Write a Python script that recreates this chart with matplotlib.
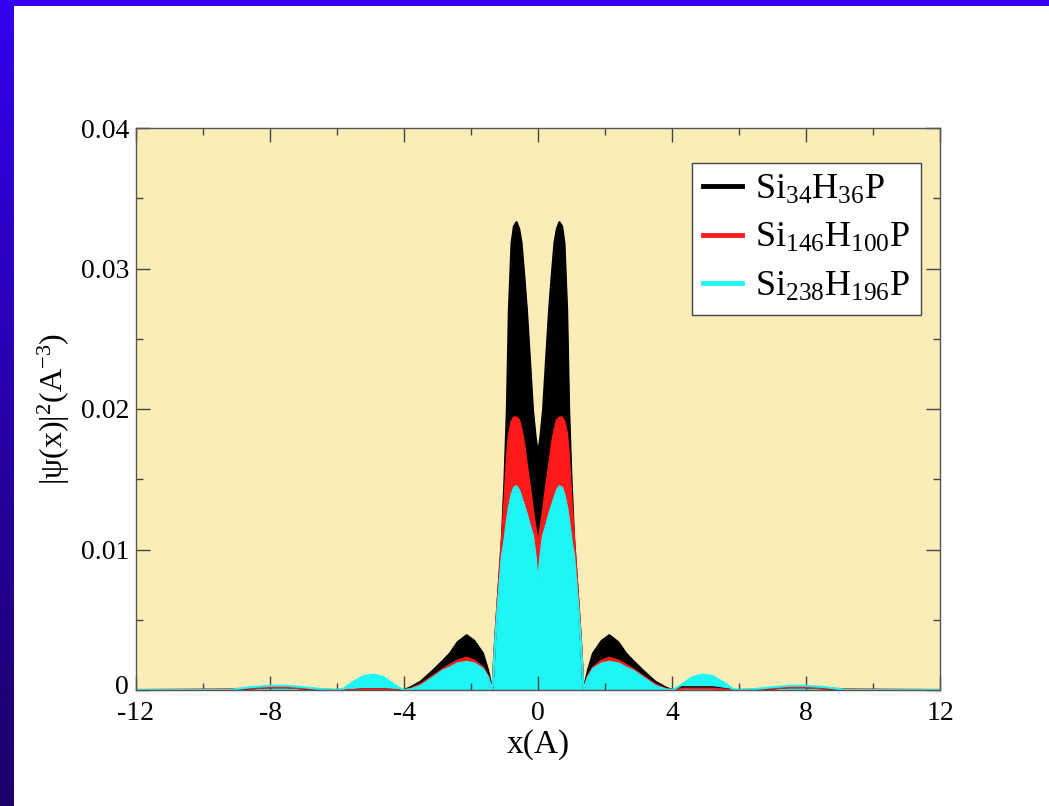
import numpy as np
import matplotlib
matplotlib.use("Agg")
import matplotlib.pyplot as plt
from matplotlib.lines import Line2D
from matplotlib.patches import Rectangle
from matplotlib.transforms import ScaledTranslation

plt.rcParams['font.family'] = ['Liberation Serif', 'DejaVu Serif']
plt.rcParams['mathtext.fontset'] = 'custom'
plt.rcParams['mathtext.rm'] = 'Liberation Serif'
plt.rcParams['mathtext.it'] = 'Liberation Serif:italic'
plt.rcParams['axes.unicode_minus'] = False

x = [-12, -9.2, -8.6, -8.0, -7.5, -7.0, -6.4, -6.0, -5.8, -5.5, -5.2, -4.9, -4.6, -4.3,
     -4.1, -4.0, -3.8, -3.5, -3.13, -2.83, -2.63, -2.4, -2.13, -1.9, -1.64, -1.49, -1.36,
     -1.28, -1.2, -1.08, -1.0, -0.93, -0.87, -0.79, -0.72, -0.64, -0.56, -0.49, -0.41,
     -0.33, -0.24, -0.15, -0.07, 0,
     0.07, 0.15, 0.24, 0.33, 0.41, 0.49, 0.56, 0.64, 0.72, 0.79, 0.87, 0.93, 1.0, 1.08,
     1.2, 1.28, 1.36, 1.49, 1.64, 1.9, 2.13, 2.4, 2.63, 2.83, 3.13, 3.5, 3.8, 4.0, 4.1,
     4.3, 4.6, 4.9, 5.2, 5.5, 5.8, 6.0, 6.4, 7.0, 7.5, 8.0, 8.6, 9.2, 12]

si34 = [0, 0, 0.0001, 0.0002, 0.0002, 0.0001, 0, 0, 0, 0, 0.00005, 0.00005, 0.00005, 0,
        0, 0, 0.0002, 0.0006, 0.0014, 0.0021, 0.0026, 0.0034, 0.0039, 0.0035, 0.0026, 0.0014, 0,
        0.0036, 0.0065, 0.0107, 0.015, 0.0199, 0.027, 0.0318, 0.033, 0.0333, 0.0328, 0.0318, 0.0295,
        0.027, 0.0235, 0.0199, 0.018, 0.0168,
        0.018, 0.0199, 0.0235, 0.027, 0.0295, 0.0318, 0.0328, 0.0333, 0.033, 0.0318, 0.027, 0.0199,
        0.015, 0.0107, 0.0065, 0.0036, 0, 0.0014, 0.0026, 0.0035, 0.0039, 0.0034, 0.0026, 0.0021,
        0.0014, 0.0006, 0.0002, 0, 0, 0.0002, 0.0002, 0.0002, 0.0002, 0.0001, 0, 0, 0, 0.0001,
        0.0002, 0.0002, 0.0001, 0, 0]

si146 = [0, 0.00005, 0.00012, 0.00018, 0.00018, 0.00012, 0.00003, 0, 0, 0, 0.00005, 0.00005,
         0.00005, 0, 0, 0, 0.0001, 0.0004, 0.0010, 0.0015, 0.0018, 0.0021, 0.0023, 0.0021, 0.0016,
         0.0010, 0, 0.0036, 0.0065, 0.0107, 0.0135, 0.0165, 0.0182, 0.0191, 0.0194, 0.0194, 0.0192,
         0.0185, 0.0175, 0.016, 0.0145, 0.0128, 0.0115, 0.0105,
         0.0115, 0.0128, 0.0145, 0.016, 0.0175, 0.0185, 0.0192, 0.0194, 0.0194, 0.0191, 0.0182,
         0.0165, 0.0135, 0.0107, 0.0065, 0.0036, 0, 0.0010, 0.0016, 0.0021, 0.0023, 0.0021, 0.0018,
         0.0015, 0.0010, 0.0004, 0.0001, 0, 0, 0.0001, 0.0001, 0.0001, 0.0001, 0.00005, 0, 0,
         0.00003, 0.00012, 0.00018, 0.00018, 0.00012, 0.00005, 0]

si238 = [0, 0, 0.0002, 0.0003, 0.0003, 0.0002, 0.00005, 0, 0.0001, 0.0006, 0.001, 0.0011,
         0.0009, 0.0004, 0.0001, 0, 0.00005, 0.0003, 0.0009, 0.0014, 0.0016, 0.0019, 0.0020, 0.0019,
         0.0015, 0.0009, 0, 0.0034, 0.006, 0.0095, 0.0107, 0.012, 0.013, 0.0139, 0.0144, 0.0145,
         0.0142, 0.0137, 0.0131, 0.0125, 0.0117, 0.0110, 0.0095, 0.0076,
         0.0095, 0.0110, 0.0117, 0.0125, 0.0131, 0.0137, 0.0142, 0.0145, 0.0144, 0.0139, 0.013,
         0.012, 0.0107, 0.0095, 0.006, 0.0034, 0, 0.0009, 0.0015, 0.0019, 0.0020, 0.0019, 0.0016,
         0.0014, 0.0009, 0.0003, 0.00005, 0, 0.0001, 0.0004, 0.0009, 0.0011, 0.001, 0.0006,
         0.0001, 0, 0.00005, 0.0002, 0.0003, 0.0003, 0.0002, 0, 0]

labels = [r'Si$_\mathrm{34}$H$_\mathrm{36}$P', r'Si$_\mathrm{146}$H$_\mathrm{100}$P',
          r'Si$_\mathrm{238}$H$_\mathrm{196}$P']
colors = ['#000000', '#ff1a1a', '#1ef6f6']

fig = plt.figure(figsize=(10.49, 8.06), dpi=100, facecolor='white')

# slide frame: blue band on top, gradient band on the left
grad = np.linspace(0, 1, 256)[:, None]
top_c = np.array([52, 0, 238]) / 255
bot_c = np.array([28, 0, 105]) / 255
img = top_c[None, None, :] * (1 - grad[:, :, None]) + bot_c[None, None, :] * grad[:, :, None]
bax = fig.add_axes([0, 0, 14 / 1049, 1])
bax.imshow(img, aspect='auto', extent=[0, 1, 0, 1])
bax.axis('off')
fig.add_artist(Rectangle((0, 1 - 6 / 806), 1, 6 / 806, transform=fig.transFigure,
                         facecolor='#3400ee', edgecolor='none'))

ax = fig.add_axes([136 / 1049, 1 - 690 / 806, 804 / 1049, 562 / 806])
ax.set_facecolor('#faedb8')

for yv, c in zip([si34, si146, si238], colors):
    ax.fill_between(x, 0, yv, color=c, linewidth=0)
    ax.plot(x, yv, color=c, lw=1.5)

ax.set_xlim(-12, 12)
ax.set_ylim(0, 0.04)
ax.set_xticks([-12, -8, -4, 0, 4, 8, 12])
ax.set_xticks([-10, -6, -2, 2, 6, 10], minor=True)
ax.set_yticks([0, 0.01, 0.02, 0.03, 0.04])
ax.set_yticklabels(['0', '0.01', '0.02', '0.03', '0.04'])
ax.set_yticks([0.005, 0.015, 0.025, 0.035], minor=True)
ax.tick_params(which='both', direction='in', top=True, right=True, labelsize=20,
               color='#444444', width=1)
ax.tick_params(which='major', length=10, pad=5)
ax.tick_params(axis='x', which='major', pad=8)
ax.tick_params(which='minor', length=5)
for s in ax.spines.values():
    s.set_color('#555555')
    s.set_linewidth(1)

# nudge the y "0" up a little so it does not sit on the "-12"
zero_lbl = ax.get_yticklabels()[0]
zero_lbl.set_transform(zero_lbl.get_transform() + ScaledTranslation(0, 4 / 72, fig.dpi_scale_trans))

ax.set_xlabel('x(A)', fontsize=24, labelpad=2)
ax.set_ylabel(r'|ψ(x)|$^\mathrm{2}$(A$^\mathrm{-3}$)', fontsize=23, labelpad=6)

handles = [Line2D([], [], color=c, lw=3.5) for c in colors]
leg = ax.legend(handles, labels, loc='upper right', bbox_to_anchor=(0.976, 0.938),
                borderaxespad=0, fontsize=26, fancybox=False, framealpha=1,
                edgecolor='#444444', handlelength=1.1, handletextpad=0.35,
                labelspacing=0.42, borderpad=0.3)
leg.get_frame().set_linewidth(1)

fig.savefig('out.png', dpi=100, facecolor='white')
